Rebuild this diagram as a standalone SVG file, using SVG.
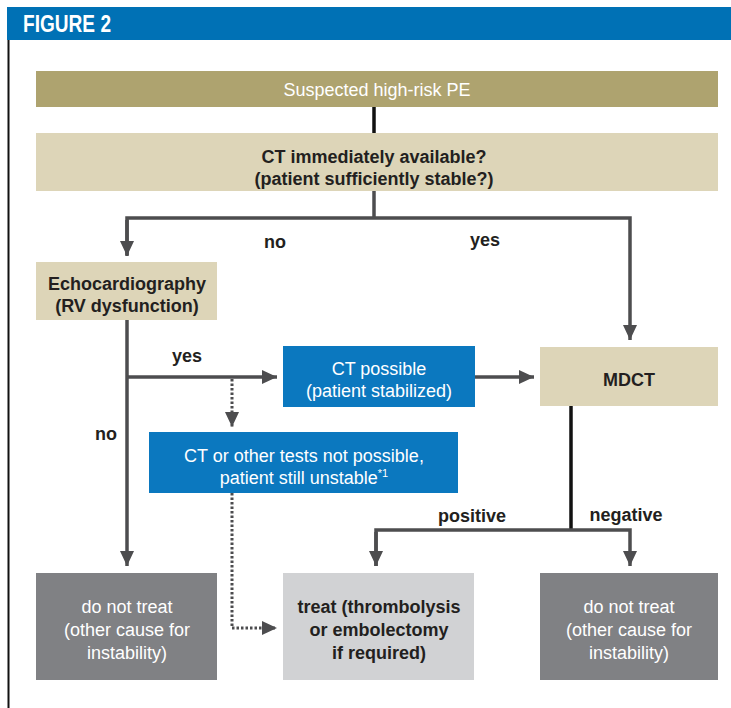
<svg xmlns="http://www.w3.org/2000/svg" width="731" height="708" viewBox="0 0 731 708">
<style>
text{font-family:"Liberation Sans",Arial,sans-serif;font-size:18px;text-anchor:middle}
.w{fill:#ffffff}
.d{fill:#231f20;font-weight:bold}
.ln{stroke:#4d4d4f;stroke-width:3.5;fill:none}
.dot{stroke:#4d4d4f;stroke-width:3;fill:none;stroke-dasharray:2.5 2}
</style>
<defs>
<marker id="ah" markerUnits="userSpaceOnUse" markerWidth="16" markerHeight="14" refX="15" refY="7" orient="auto">
<path d="M0,0 L15,7 L0,14 z" fill="#4d4d4f"/>
</marker>
</defs>
<rect x="0" y="0" width="731" height="708" fill="#ffffff"/>
<g id="header">
<rect x="7" y="7" width="724" height="33" fill="#0071b5"/>
<text x="23" y="32" style="text-anchor:start;font-weight:bold;font-size:23px" class="w" textLength="88" lengthAdjust="spacingAndGlyphs">FIGURE 2</text>
<line x1="8.5" y1="40" x2="8.5" y2="708" stroke="#111" stroke-width="2"/>
</g>
<g id="connectors">
<line x1="374" y1="107" x2="374" y2="133" stroke="#111" stroke-width="3.5"/>
<polyline class="ln" points="374,191 374,218"/>
<polyline class="ln" points="127,255 127,218 630,218 630,340" marker-end="url(#ah)"/>
<line class="ln" x1="127" y1="220" x2="127" y2="256" marker-end="url(#ah)"/>
<line class="ln" x1="127" y1="320" x2="127" y2="566" marker-end="url(#ah)"/>
<line class="ln" x1="127" y1="377" x2="277" y2="377" marker-end="url(#ah)"/>
<line class="ln" x1="475" y1="377" x2="534" y2="377" marker-end="url(#ah)"/>
<line class="dot" x1="232" y1="379" x2="232" y2="427" marker-end="url(#ah)"/>
<polyline class="dot" points="232,493 232,628 277,628" marker-end="url(#ah)"/>
<line x1="571" y1="406" x2="571" y2="530" stroke="#111" stroke-width="3.5"/>
<polyline class="ln" points="376,566 376,530 630,530 630,566" marker-end="url(#ah)"/>
<line class="ln" x1="376" y1="532" x2="376" y2="566" marker-end="url(#ah)"/>
<text class="d" x="275" y="248">no</text>
<text class="d" x="485" y="246">yes</text>
<text class="d" x="187" y="362">yes</text>
<text class="d" x="106" y="440">no</text>
<text class="d" x="472" y="522">positive</text>
<text class="d" x="626" y="521">negative</text>
</g>
<g id="n-suspected">
<rect x="36" y="71" width="682" height="36" fill="#aea36f"/>
<text class="w" x="377" y="96">Suspected high-risk PE</text>
</g>
<g id="n-ct-available">
<rect x="36" y="133" width="682" height="58" fill="#ddd5b8"/>
<text class="d" x="374" y="163">CT immediately available?</text>
<text class="d" x="374" y="185">(patient sufficiently stable?)</text>
</g>
<g id="n-echo">
<rect x="36" y="262" width="181" height="58" fill="#ddd5b8"/>
<text class="d" x="127" y="290">Echocardiography</text>
<text class="d" x="127" y="312">(RV dysfunction)</text>
</g>
<g id="n-ct-possible">
<rect x="283" y="346" width="192" height="61" fill="#0b78bf"/>
<text class="w" x="379" y="375">CT possible</text>
<text class="w" x="379" y="397">(patient stabilized)</text>
</g>
<g id="n-mdct">
<rect x="540" y="347" width="178" height="59" fill="#ddd5b8"/>
<text class="d" x="629" y="386">MDCT</text>
</g>
<g id="n-not-possible">
<rect x="149" y="432" width="309" height="61" fill="#0b78bf"/>
<text class="w" x="304" y="462">CT or other tests not possible,</text>
<text class="w" x="304" y="484">patient still unstable<tspan font-size="11" dy="-7">*1</tspan></text>
</g>
<g id="n-dnt-left">
<rect x="36" y="573" width="181" height="107" fill="#808184"/>
<text class="w" x="127" y="613">do not treat</text>
<text class="w" x="127" y="636">(other cause for</text>
<text class="w" x="127" y="659">instability)</text>
</g>
<g id="n-treat">
<rect x="283" y="573" width="191" height="107" fill="#d1d2d4"/>
<text class="d" x="379" y="613">treat (thrombolysis</text>
<text class="d" x="379" y="636">or embolectomy</text>
<text class="d" x="379" y="659">if required)</text>
</g>
<g id="n-dnt-right">
<rect x="540" y="573" width="178" height="107" fill="#808184"/>
<text class="w" x="629" y="613">do not treat</text>
<text class="w" x="629" y="636">(other cause for</text>
<text class="w" x="629" y="659">instability)</text>
</g>
</svg>
